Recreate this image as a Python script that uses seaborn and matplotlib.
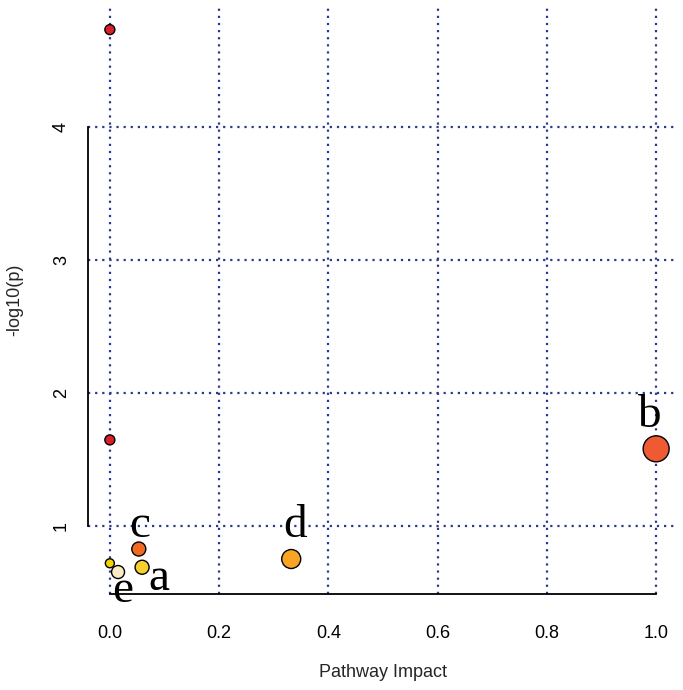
import pandas as pd
import numpy as np
import matplotlib.pyplot as plt
import seaborn as sns

# -----------------------------
# Pathway data
# -----------------------------
pathway_id = ["p1", "p2", "c", "a", "p5", "e", "d", "b"]
impact = [0.0, 0.0, 0.053, 0.059, 0.0, 0.015, 0.332, 1.0]
log_p = [4.73, 1.647, 0.827, 0.69, 0.72, 0.654, 0.752, 1.58]

label_text = ["a", "b", "c", "d", "e"]
label_x = [0.09, 0.987, 0.055, 0.339, 0.024]
label_y = [0.519, 1.744, 0.917, 0.917, 0.43]

x_ticks = [0.0, 0.2, 0.4, 0.6, 0.8, 1.0]
y_ticks = [1, 2, 3, 4]

# styles
point_colors = {"p1": "#D8202A", "p2": "#D8202A", "c": "#F26A22", "a": "#F8D02E",
                "p5": "#F4D400", "e": "#FBEBC4", "d": "#F8A425", "b": "#F05A32"}
point_radius = {"p1": 5, "p2": 5, "c": 7, "a": 7, "p5": 4.5, "e": 6.5, "d": 9.5, "b": 13}
point_sizes = {k: (2 * r * 0.72) ** 2 for k, r in point_radius.items()}

df = pd.DataFrame({"id": pathway_id, "impact": impact, "logp": log_p})

sns.set_style("white")
plt.rcParams["font.family"] = ["Liberation Sans", "DejaVu Sans"]

fig = plt.figure(figsize=(6.83, 6.90), dpi=100)
ax = fig.add_axes([88 / 683, 96 / 690, 590 / 683, 587 / 690])

grid_color = "#2B3A8C"
for xv in x_ticks:
    ax.axvline(xv, color=grid_color, linestyle=(0, (1, 2.2)), linewidth=1.6, zorder=0)
for yv in y_ticks:
    ax.axhline(yv, color=grid_color, linestyle=(0, (1, 2.2)), linewidth=1.6, zorder=0)

sns.scatterplot(data=df, x="impact", y="logp", hue="id", palette=point_colors,
                size="id", sizes=point_sizes, edgecolor="black", linewidth=1.0,
                legend=False, ax=ax, zorder=3, clip_on=False)

for t, lx, ly in zip(label_text, label_x, label_y):
    ax.text(lx, ly, t, fontsize=34, family=["Liberation Serif", "DejaVu Serif"],
            ha="center", va="baseline", color="black", zorder=4, clip_on=False)

ax.set_xlim(-0.04, 1.04)
ax.set_ylim(0.489, 4.9)
ax.set_xticks(x_ticks)
ax.set_xticklabels([f"{v:.1f}" for v in x_ticks])
ax.set_yticks(y_ticks)
ax.set_yticklabels([str(v) for v in y_ticks], rotation=90, va="center")

for side in ["top", "right"]:
    ax.spines[side].set_visible(False)
ax.spines["left"].set_bounds(1, 4)
ax.spines["bottom"].set_bounds(0, 1)
for side in ["left", "bottom"]:
    ax.spines[side].set_color("black")
    ax.spines[side].set_linewidth(1.3)

ax.tick_params(axis="both", direction="out", length=8, width=1.3, colors="black",
               labelsize=13, pad=14)
ax.tick_params(axis="y", pad=5)

ax.set_xlabel("Pathway Impact", fontsize=13, labelpad=16)
ax.set_ylabel("-log10(p)", fontsize=13)
ax.yaxis.set_label_coords(-0.110, 0.501)

plt.savefig("out.png", dpi=100)
plt.close()
